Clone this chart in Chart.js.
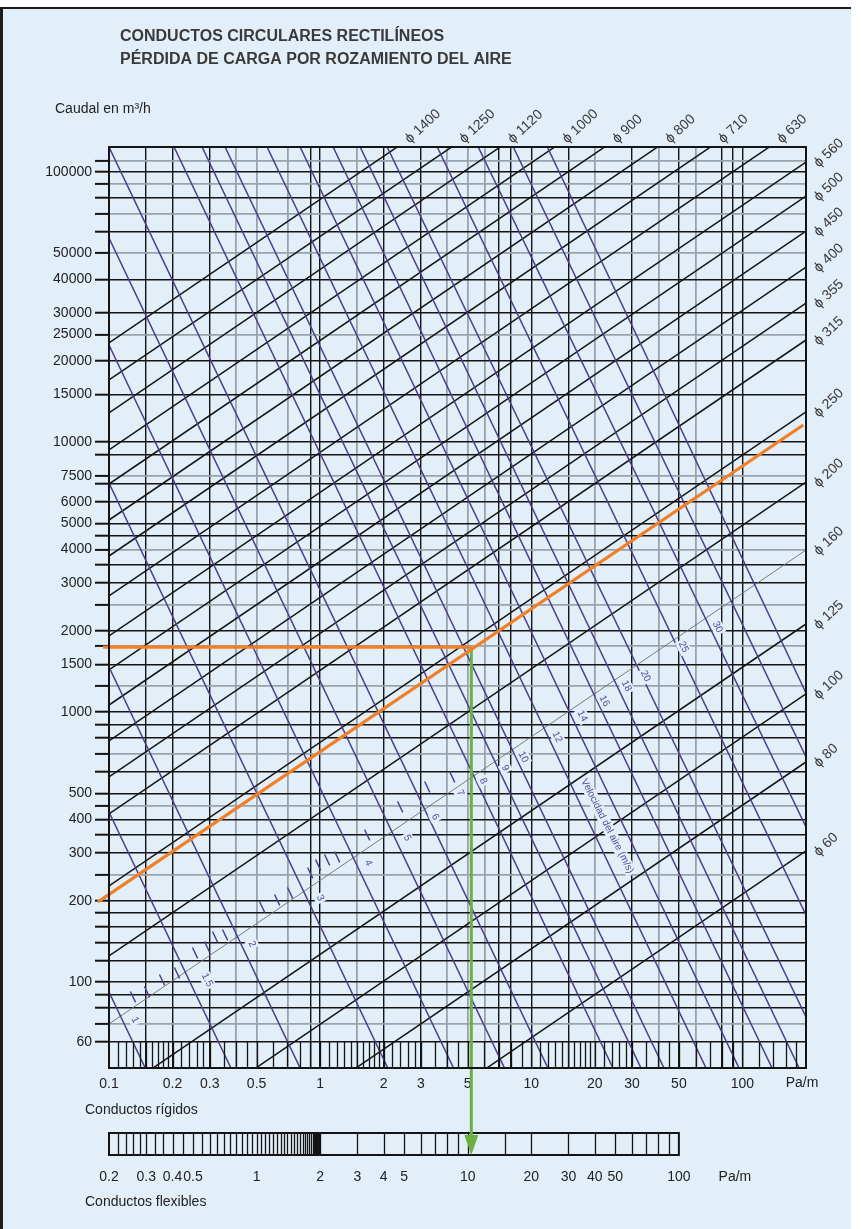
<!DOCTYPE html>
<html>
<head>
<meta charset="utf-8">
<script src="https://cdn.jsdelivr.net/npm/chart.js@4.4.1/dist/chart.umd.min.js"></script>
<style>
  html, body { margin: 0; padding: 0; background: #e2eef8; }
</style>
</head>
<body>
<canvas id="abaco" width="861" height="1229"></canvas>
<script>
const diametros = [1400, 1250, 1120, 1000, 900, 800, 710, 630, 560, 500, 450, 400, 355, 315, 250, 200, 160, 125, 100, 80, 60];
// caudal (m3/h) de cada recta de diametro a 0.1 Pa/m y a 200 Pa/m
const caudalIzq = [23270, 16970, 12810, 9342, 6989, 5141, 3782, 2689, 1912, 1431, 1061, 780.7, 574.4, 419.2, 226.8, 124.8, 69.9, 37.19, 20.48, 11.46, 5.364];
const caudalDer = [1325000, 966500, 729500, 531900, 398100, 292900, 215400, 153200, 108900, 81490, 60460, 44470, 32720, 23870, 12920, 7109, 3981, 2118, 1166, 652.8, 305.7];

// rectas de velocidad (m/s): punto inicial y final (Pa/m, m3/h)
const velocidades = [1, 1.5, 2, 3, 4, 5, 6, 8, 9, 10, 12, 14, 16, 18, 20, 25, 30, 35, 40];
const velDpIni = [0.1, 0.1, 0.1, 0.1, 0.1, 0.1, 0.1, 0.2033, 0.2759, 0.3546, 0.5607, 0.8038, 1.152, 1.547, 2.077, 3.585, 5.607, 8.216, 11.91];
const velQIni = [91.8, 426.2, 1468, 7049, 22870, 56960, 123800, 123800, 123800, 123800, 123800, 123800, 123800, 123800, 123800, 123800, 123800, 123800, 123800];
const velDpFin = [0.1485, 0.378, 0.804, 2.091, 4.283, 7.464, 11.99, 24.36, 33.07, 42.5, 67.22, 96.36, 138.1, 185.5, 200, 200, 200, 200, 200];
const velQFin = [48, 48, 48, 48, 48, 48, 48, 48, 48, 48, 48, 48, 48, 48, 74.18, 177.1, 375.1, 681.3, 1176];

// rotulos de velocidad sobre la recta de 160
const velEtiquetas = ['1', '1.5', '2', '3', '4', '5', '6', '7', '8', '9', '10', '12', '14', '16', '18', '20', '25', '30'];
const velEtqDp = [0.1328, 0.2914, 0.476, 1.0, 1.689, 2.584, 3.508, 4.608, 5.923, 7.53, 9.165, 13.28, 17.45, 22.18, 28.2, 34.7, 52.54, 76.1];
const velEtqQ = [72.3, 101.7, 138.3, 204.7, 275.9, 341.5, 408.5, 501.2, 555.2, 620.3, 681.3, 807.8, 966.5, 1098, 1248, 1359, 1741, 2064];
const rotuloVelDp = 22.9;
const rotuloVelQ = 378;

// marcas cortas de velocidad intermedia (Pa/m, m3/h)
const marcasVelDp = [0.1299, 0.1514, 0.1783, 0.21, 0.2556, 0.2914, 0.318, 0.3546, 0.531, 0.6255, 0.7208, 0.8969, 0.9784, 1.0794, 1.204, 1.67, 2.394, 3.215, 4.222];
const marcasVelQ = [88.0, 91.8, 101.7, 108.0, 128.1, 134.8, 146.8, 149.3, 189.6, 201.2, 213.6, 253.3, 271.3, 283.1, 290.4, 350.3, 444.7, 527.6, 574.4];

// ejemplo: 1740 m3/h con perdida 5.2 Pa/m
const ejemploDp = [0.0937, 5.2];
const ejemploQ = [1740, 1740];
const rectaEjemploDp = [0.0887, 194];
const rectaEjemploQ = [198, 11560];
const flechaDp = [5.2, 5.2];
const flechaQ = [1740, 24.9];

// ejes
const xLabels = [0.1, 0.2, 0.3, 0.5, 1, 2, 3, 5, 10, 20, 30, 50, 100];
const xGridBlack = [0.15, 0.2, 0.3, 0.9, 1, 2, 3, 7, 8, 10, 15, 30, 50, 80, 90, 100];
const xGridGray = [0.4, 0.5, 0.7, 1.5, 4, 5, 6, 20, 40, 60];
const yLabels = [100000, 50000, 40000, 30000, 25000, 20000, 15000, 10000, 7500, 6000, 5000, 4000, 3000, 2000, 1500, 1000, 500, 400, 300, 200, 100, 60];
const yGridBlack = [60, 80, 90, 100, 120, 140, 160, 180, 200, 300, 350, 400, 500, 600, 800, 900, 1000, 1500, 2000, 3000, 3500, 4500, 5000, 6000, 7000, 9000, 10000, 15000, 20000, 30000, 40000, 60000, 80000, 100000];
const yGridGray = [70, 250, 450, 700, 1250, 1750, 2500, 4000, 7500, 25000, 50000, 70000, 90000, 110000];

// escalas de las tiras inferiores
const tiraRigidos = [0.11, 0.12, 0.13, 0.14, 0.15, 0.16, 0.17, 0.18, 0.19, 0.2, 0.22, 0.24, 0.26, 0.28, 0.3, 0.35, 0.4, 0.45, 0.5, 0.6, 0.7, 0.8, 0.9, 1, 1.1, 1.2, 1.3, 1.4, 1.5, 1.6, 1.7, 1.8, 1.9, 2, 2.2, 2.4, 2.6, 2.8, 3, 3.5, 4, 4.5, 5, 6, 7, 8, 9, 10, 11, 12, 13, 14, 15, 16, 17, 18, 19, 20, 22, 24, 26, 28, 30, 35, 40, 45, 50, 60, 70, 80, 90, 100, 120, 140, 160, 180];
const tiraFlexibles = [0.22, 0.24, 0.26, 0.28, 0.3, 0.33, 0.36, 0.4, 0.45, 0.5, 0.55, 0.6, 0.65, 0.7, 0.75, 0.8, 0.85, 0.9, 0.95, 1, 1.05, 1.1, 1.15, 1.2, 1.25, 1.3, 1.35, 1.4, 1.45, 1.5, 1.55, 1.6, 1.65, 1.7, 1.74, 1.78, 1.82, 1.85, 1.88, 1.9, 1.92, 1.94, 1.96, 1.98, 2, 3, 4, 5, 6, 7, 8, 9, 10, 15, 20, 30, 40, 50, 60, 70, 80, 90];
const flexLabels = [0.2, 0.3, 0.4, 0.5, 1, 2, 3, 4, 5, 10, 20, 30, 40, 50, 100];

const FONT = "'Liberation Sans', Arial, sans-serif";
const FONDO = '#e2eef8';
const NEGRO = '#141414';
const GRIS = '#9aa3ac';
const MORADO = '#4a3c8c';
const VERDE = '#6cb043';

const xTicks = [0.1, ...xGridBlack, ...xGridGray, ...xLabels, 200]
    .filter((v, i, a) => a.indexOf(v) === i).sort((a, b) => a - b);
const yTicks = [48, ...yGridBlack, ...yGridGray, ...yLabels, 123800]
    .filter((v, i, a) => a.indexOf(v) === i).sort((a, b) => a - b);

function gridColor(v, black, gray) {
    if (black.includes(v)) return NEGRO;
    if (gray.includes(v)) return GRIS;
    return 'rgba(0,0,0,0)';
}

const datasets = [];
datasets.push({
    data: ejemploDp.map((v, i) => ({x: v, y: ejemploQ[i]})),
    borderColor: '#f07f26', borderWidth: 3.2, clip: false, order: 0
});
datasets.push({
    data: rectaEjemploDp.map((v, i) => ({x: v, y: rectaEjemploQ[i]})),
    borderColor: '#f07f26', borderWidth: 3.2, clip: false, order: 0
});
datasets.push({
    flecha: true,
    data: flechaDp.map((v, i) => ({x: v, y: flechaQ[i]})),
    borderColor: VERDE, borderWidth: 3,
    clip: false, order: 0
});
diametros.forEach((d, i) => {
    datasets.push({
        diam: d,
        data: [{x: 0.1, y: caudalIzq[i]}, {x: 200, y: caudalDer[i]}],
        borderColor: d === 160 ? '#6e6e6e' : NEGRO,
        borderWidth: d === 160 ? 0.9 : 1.5,
        clip: 0, order: 2
    });
});
velocidades.forEach((v, i) => {
    datasets.push({
        vel: v,
        data: [{x: velDpIni[i], y: velQIni[i]}, {x: velDpFin[i], y: velQFin[i]}],
        borderColor: MORADO, borderWidth: 1.5,
        clip: 0, order: 1
    });
});

const decoracion = {
    id: 'decoracion',
    beforeDraw(chart) {
        const c = chart.ctx;
        c.save();
        c.fillStyle = '#ffffff';
        c.fillRect(0, 0, chart.width, chart.height);
        c.fillStyle = FONDO;
        c.fillRect(0, 8, 851, chart.height - 8);
        c.fillStyle = '#1c1c1c';
        c.fillRect(0, 7, 851, 2);
        c.fillRect(0, 7, 3, chart.height - 7);
        c.restore();
    },
    beforeDatasetsDraw(chart) {
        // tira de conductos flexibles
        const c = chart.ctx, area = chart.chartArea;
        const x2 = chart.scales.x2;
        const top = area.bottom + 65, bot = area.bottom + 87;
        const l = x2.getPixelForValue(0.2), r = x2.getPixelForValue(100);
        c.save();
        c.strokeStyle = NEGRO;
        c.lineWidth = 1.3;
        tiraFlexibles.forEach(v => {
            const px = Math.round(x2.getPixelForValue(v)) + 0.5;
            c.beginPath(); c.moveTo(px, top); c.lineTo(px, bot); c.stroke();
        });
        c.lineWidth = 2;
        c.strokeRect(l, top, r - l, bot - top);
        c.fillStyle = '#222';
        c.font = '14px ' + FONT;
        c.textAlign = 'center';
        c.textBaseline = 'middle';
        flexLabels.forEach(v => c.fillText(String(v), x2.getPixelForValue(v), bot + 22));
        c.fillText('Pa/m', r + 56, bot + 22);
        c.textAlign = 'left';
        c.fillText('Conductos flexibles', 85, bot + 47);
        c.fillText('Conductos rígidos', 85, area.bottom + 42);
        c.textAlign = 'center';
        c.fillText('Pa/m', area.right - 4, area.bottom + 15);
        c.restore();
    },
    afterDatasetsDraw(chart) {
        const c = chart.ctx, area = chart.chartArea;
        const x = chart.scales.x, y = chart.scales.y;
        c.save();
        // tira de conductos rigidos
        c.strokeStyle = NEGRO;
        c.lineWidth = 1.3;
        const y60 = y.getPixelForValue(60);
        tiraRigidos.forEach(v => {
            const px = Math.round(x.getPixelForValue(v)) + 0.5;
            c.beginPath(); c.moveTo(px, y60); c.lineTo(px, area.bottom); c.stroke();
        });
        // marco
        c.lineWidth = 2;
        c.strokeRect(area.left, area.top, area.right - area.left, area.bottom - area.top);

        // marcas cortas de velocidad
        const ang = Math.atan(2.1);
        const dx = Math.cos(ang) * 6, dy = Math.sin(ang) * 6;
        c.strokeStyle = MORADO;
        c.lineWidth = 1.4;
        marcasVelDp.forEach((v, i) => {
            const px = x.getPixelForValue(v), py = y.getPixelForValue(marcasVelQ[i]);
            c.beginPath(); c.moveTo(px - dx, py - dy); c.lineTo(px + dx, py + dy); c.stroke();
        });

        // rotulos de velocidad
        c.font = '10px ' + FONT;
        c.textAlign = 'center';
        c.textBaseline = 'middle';
        velEtiquetas.forEach((t, i) => {
            const px = x.getPixelForValue(velEtqDp[i]), py = y.getPixelForValue(velEtqQ[i]);
            c.save();
            c.translate(px, py);
            c.rotate(1.1);
            const w = c.measureText(t).width;
            c.fillStyle = FONDO;
            c.fillRect(-w / 2 - 2, -6, w + 4, 12);
            c.fillStyle = '#574c9c';
            c.fillText(t, 0, 0);
            c.restore();
        });
        c.save();
        c.translate(x.getPixelForValue(rotuloVelDp), y.getPixelForValue(rotuloVelQ));
        c.rotate(1.1);
        const tv = 'Velocidad del aire (m/s)';
        const wv = c.measureText(tv).width;
        c.fillStyle = FONDO;
        c.fillRect(-wv / 2 - 2, -6, wv + 4, 12);
        c.fillStyle = '#574c9c';
        c.fillText(tv, 0, 0);
        c.restore();

        // punta de la flecha verde
        chart.data.datasets.forEach((ds, i) => {
            if (!ds.flecha) return;
            const p = chart.getDatasetMeta(i).data[1];
            c.fillStyle = VERDE;
            c.beginPath();
            c.moveTo(p.x, p.y + 10);
            c.lineTo(p.x - 7, p.y - 10);
            c.lineTo(p.x + 7, p.y - 10);
            c.closePath();
            c.fill();
        });

        // rotulos de diametro
        c.font = '14px ' + FONT;
        c.fillStyle = '#3a3a3a';
        c.textAlign = 'left';
        chart.data.datasets.forEach((ds, i) => {
            if (!ds.diam) return;
            const pts = chart.getDatasetMeta(i).data;
            const a = pts[0], b = pts[1];
            const m = (b.y - a.y) / (b.x - a.x);
            const xTop = a.x + (area.top - a.y) / m;
            let px, py;
            if (xTop <= area.right) {
                px = xTop + 10; py = area.top - 6;
            } else {
                px = area.right + 10; py = a.y + m * (area.right - a.x) + 3;
            }
            c.save();
            c.translate(px, py);
            c.rotate(-0.75);
            c.fillText('ϕ ' + ds.diam, 0, 0);
            c.restore();
        });

        // titulo
        c.fillStyle = '#3a3a3a';
        c.font = 'bold 16px ' + FONT;
        c.textBaseline = 'alphabetic';
        c.fillText('CONDUCTOS CIRCULARES RECTILÍNEOS', 120, 41);
        c.fillText('PÉRDIDA DE CARGA POR ROZAMIENTO DEL AIRE', 120, 64);
        c.fillStyle = '#222';
        c.font = '14px ' + FONT;
        c.fillText('Caudal en m³/h', 55, 113);
        c.restore();
    }
};

new Chart(document.getElementById('abaco'), {
    type: 'line',
    data: {datasets: datasets},
    options: {
        responsive: false,
        animation: false,
        events: [],
        layout: {padding: {top: 147, right: 55, left: 0, bottom: 0}},
        elements: {point: {radius: 0}, line: {tension: 0}},
        plugins: {legend: {display: false}, tooltip: {enabled: false}},
        scales: {
            x: {
                type: 'logarithmic', min: 0.1, max: 200, position: 'bottom',
                afterBuildTicks: (s) => { s.ticks = xTicks.map(v => ({value: v})); },
                afterFit: (s) => { s.height = 161; },
                ticks: {
                    autoSkip: false, maxRotation: 0, minRotation: 0, padding: 8,
                    color: '#222', font: {family: FONT, size: 14},
                    callback: (v) => xLabels.includes(v) ? String(v) : ''
                },
                grid: {
                    drawTicks: false,
                    color: (ctx) => gridColor(ctx.tick && ctx.tick.value, xGridBlack, xGridGray),
                    lineWidth: (ctx) => xGridGray.includes(ctx.tick && ctx.tick.value) ? 1.8 : 1.4
                },
                border: {display: true, color: NEGRO, width: 2}
            },
            x2: {type: 'logarithmic', min: 0.2, max: 400, position: 'bottom', display: false},
            y: {
                type: 'logarithmic', min: 48, max: 123800,
                afterBuildTicks: (s) => { s.ticks = yTicks.map(v => ({value: v})); },
                afterFit: (s) => { s.width = 109; },
                ticks: {
                    autoSkip: false, padding: 3, color: '#222',
                    font: {family: FONT, size: 14},
                    callback: (v) => yLabels.includes(v) ? String(v) : ''
                },
                grid: {
                    tickLength: 14,
                    tickWidth: 2,
                    tickColor: (ctx) => (ctx.tick && (ctx.tick.value === 48 || ctx.tick.value === 123800)) ? 'rgba(0,0,0,0)' : NEGRO,
                    color: (ctx) => gridColor(ctx.tick && ctx.tick.value, yGridBlack, yGridGray),
                    lineWidth: (ctx) => yGridGray.includes(ctx.tick && ctx.tick.value) ? 1.8 : 1.4
                },
                border: {display: true, color: NEGRO, width: 2}
            }
        }
    },
    plugins: [decoracion]
});
</script>
</body>
</html>
